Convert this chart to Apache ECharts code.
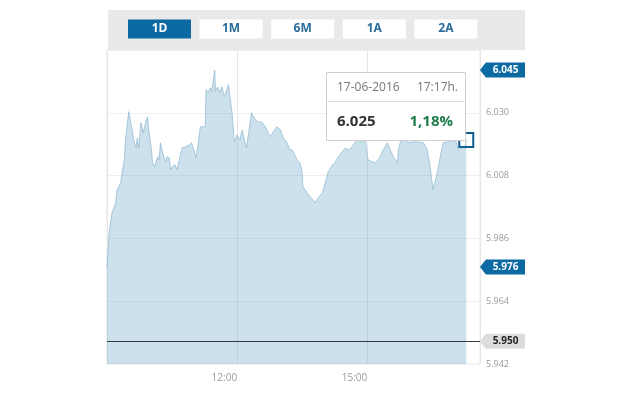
<!DOCTYPE html>
<html><head><meta charset="utf-8">
<script src="https://cdn.jsdelivr.net/npm/echarts@6/dist/echarts.min.js"></script>
<style>html,body{margin:0;padding:0;background:#fff}#c{width:640px;height:396px}</style>
</head><body><div id="c"></div>
<script>
const times = ['09:00','09:03','09:07','09:12','09:14','09:19','09:21','09:24','09:26','09:30','09:34','09:37','09:40','09:42','09:44','09:47','09:50','09:52','09:56','09:58','10:01','10:03','10:06','10:10','10:12','10:14','10:17','10:19','10:21','10:23','10:26','10:28','10:30','10:34','10:37','10:41','10:44','10:49','10:54','10:57','11:00','11:03','11:06','11:09','11:16','11:17','11:20','11:23','11:25','11:29','11:30','11:33','11:36','11:39','11:42','11:46','11:48','11:50','11:53','11:56','12:00','12:04','12:07','12:11','12:13','12:18','12:20','12:25','12:29','12:34','12:39','12:41','12:46','12:50','12:55','13:00','13:04','13:09','13:13','13:16','13:23','13:27','13:30','13:31','13:37','13:41','13:45','13:48','13:52','13:58','14:02','14:06','14:12','14:16','14:20','14:25','14:30','14:34','14:39','14:43','14:48','14:53','14:57','15:01','15:07','15:11','15:15','15:18','15:22','15:28','15:32','15:36','15:42','15:43','15:46','15:50','15:57','16:02','16:10','16:18','16:23','16:27','16:31','16:37','16:41','16:45','16:51','17:02','17:06','17:12','17:15','17:17'];
const prices = [5.976,5.988,5.995,5.9985,6.003,6.0055,6.0093,6.0135,6.0216,6.0304,6.0251,6.0205,6.0177,6.0212,6.0177,6.0265,6.023,6.0251,6.0286,6.0233,6.0181,6.0125,6.0111,6.0146,6.0135,6.0195,6.016,6.0163,6.0128,6.0146,6.0142,6.010,6.0111,6.0118,6.010,6.0146,6.0177,6.0181,6.0188,6.0195,6.017,6.0142,6.0188,6.0251,6.0251,6.0381,6.037,6.0388,6.0374,6.045,6.0374,6.0391,6.037,6.0391,6.0356,6.0381,6.0398,6.0356,6.030,6.0198,6.0223,6.0205,6.024,6.0195,6.0177,6.0265,6.030,6.0275,6.0268,6.0268,6.0251,6.024,6.0216,6.0233,6.0251,6.024,6.0212,6.0195,6.017,6.017,6.0135,6.0125,6.009,6.0041,6.002,6.0006,5.9995,5.9985,6.0002,6.002,6.0055,6.0093,6.0118,6.0128,6.0146,6.0163,6.0177,6.017,6.0181,6.0195,6.0216,6.0195,6.0205,6.0135,6.0128,6.0125,6.0135,6.0146,6.017,6.0195,6.017,6.0146,6.0125,6.017,6.0198,6.0215,6.0195,6.0198,6.0198,6.0195,6.017,6.0111,6.003,6.009,6.0146,6.0195,6.0198,6.0205,6.017,6.0181,6.0175,6.0205];
const xTicks = ['12:00','15:00'];
const dayHigh = 6.045, dayOpen = 5.976, refPrice = 5.950;
const buttons = ['1D','1M','6M','1A','2A'];
const tipDate = '17-06-2016', tipTime = '17:17h.', tipPrice = '6.025', tipChange = '1,18%';

const toMin = s => { const [h,m] = s.split(':').map(Number); return (h-9)*60+m; };
const data = times.map((t,i)=>[toMin(t), prices[i]]);
const xMax = 516;
const last = data[data.length-1];
const FONT = '"Open Sans", sans-serif';
const tagPath = 'path://M0,7 L6,0 L46,0 L46,14 L6,14 Z';
function tag(v, bg, fg){
  return {coord:[xMax, v], symbol: tagPath, symbolSize:[45,15], symbolOffset:[22.5,0],
    itemStyle:{color:bg}, value:v,
    label:{show:true, position:'inside', offset:[3,0], color:fg, fontWeight:'bold', fontSize:10, fontFamily:FONT,
      formatter: p => p.value.toFixed(3)}};
}

const chart = echarts.init(document.getElementById('c'), null, {renderer:'canvas'});
const graphics = [
  {type:'rect', shape:{x:108,y:10,width:417,height:40}, style:{fill:'#e9e9e9'}, z:0, silent:true}
];
buttons.forEach((b,i)=>{
  const x = 128 + i*71.6;
  graphics.push({type:'rect', shape:{x:x,y:19.5,width:63,height:19}, style:{fill: i===0?'#0b6aa2':'#fff'}, z:1});
  graphics.push({type:'text', x:x+31.5, y:29, style:{text:b, fill: i===0?'#fff':'#2a6d9c', font:'bold 12px '+FONT, textAlign:'center', textVerticalAlign:'middle'}, z:2});
});
graphics.push({type:'rect', shape:{x:326.5,y:72.5,width:139,height:68}, style:{fill:'#fff', stroke:'#cfcfcf', lineWidth:1}, z:100});
graphics.push({type:'line', shape:{x1:327,y1:101.5,x2:465,y2:101.5}, style:{stroke:'#dcdcdc', lineWidth:1}, z:101});
graphics.push({type:'text', x:337, y:88, style:{text:tipDate, fill:'#777', font:'12px '+FONT, textVerticalAlign:'middle'}, z:101});
graphics.push({type:'text', x:458, y:88, style:{text:tipTime, fill:'#777', font:'12px '+FONT, textAlign:'right', textVerticalAlign:'middle'}, z:101});
graphics.push({type:'text', x:337, y:122, style:{text:tipPrice, fill:'#333', font:'bold 15px '+FONT, textVerticalAlign:'middle'}, z:101});
graphics.push({type:'text', x:453, y:122, style:{text:tipChange, fill:'#1f7d4d', font:'bold 15px '+FONT, textAlign:'right', textVerticalAlign:'middle'}, z:101});

chart.setOption({
  animation:false,
  grid:{left:107, right:160, top:50, bottom:32, show:true, borderColor:'#e6e6e6', borderWidth:1, backgroundColor:'#fff'},
  xAxis:{type:'value', min:0, max:xMax, interval:180,
    axisLine:{show:false}, axisTick:{show:false},
    splitLine:{show:true, lineStyle:{color:'#e6e6e6'}},
    axisLabel:{color:'#999', fontSize:10, fontFamily:FONT, align:'right', margin:9,
      formatter: v => { const i = Math.round(v/180)-1; return (i>=0 && i<xTicks.length) ? xTicks[i] : ''; }}},
  yAxis:{type:'value', position:'right', min:5.942, max:6.052, interval:0.022,
    axisLine:{show:false}, axisTick:{show:false},
    splitLine:{show:true, lineStyle:{color:'#efefef'}},
    axisLabel:{color:'#999', fontSize:9, fontFamily:FONT, margin:6, showMaxLabel:false, verticalAlign:'middle', padding:[0,0,2,0],
      formatter: v => v > 6.05 ? '' : v.toFixed(3)}},
  graphic: graphics,
  series:[{
    type:'line', data:data, symbol:'none', clip:false, z:3,
    lineStyle:{color:'#93bdd3', width:0.8},
    areaStyle:{color:'#6fa9c8', opacity:0.35},
    markLine:{silent:true, symbol:'none', label:{show:false},
      lineStyle:{color:'#3a3a3a', width:1, type:'solid'},
      data:[{yAxis:refPrice}]},
    markPoint:{silent:true, data:[
      tag(dayHigh,'#0b6aa2','#fff'),
      tag(dayOpen,'#0b6aa2','#fff'),
      tag(refPrice,'#dcdcdc','#222'),
      {coord:last, symbol:'rect', symbolSize:14, itemStyle:{color:'rgba(0,0,0,0)', borderColor:'#0d5f8f', borderWidth:2}, label:{show:false}}
    ]}
  }]
});
</script></body></html>
